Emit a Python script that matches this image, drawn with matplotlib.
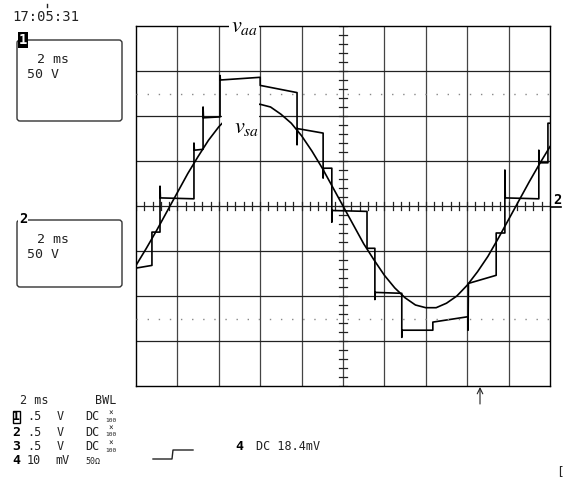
import numpy as np
import matplotlib
matplotlib.use("Agg")
import matplotlib.pyplot as plt
from matplotlib.patches import FancyBboxPatch, Rectangle

plt.rcParams['mathtext.fontset'] = 'stix'
MONO = 'DejaVu Sans Mono'
INK = '#222222'

# source voltage v_sa (ms, V)
t_sa = [0.0, 0.5, 1.0, 1.5, 2.0, 2.5, 3.0, 3.5, 4.0, 4.5, 5.0, 5.5, 6.0, 6.5,
        7.0, 7.5, 8.0, 8.5, 9.0, 9.5, 10.0, 10.5, 11.0, 11.5, 12.0, 12.5,
        13.0, 13.5, 14.0, 14.5, 15.0, 15.5, 16.0, 16.5, 17.0, 17.5, 18.0,
        18.5, 19.0, 19.5, 20.0]
v_sa = [-66, -47, -27, -6, 15, 36, 55, 73, 88, 100, 108, 113, 113, 110,
        102, 92, 78, 61, 42, 21, 0, -21, -42, -60, -77, -91, -102, -110,
        -113, -113, -108, -100, -88, -73, -56, -36, -15, 6, 27, 47, 66]

# inverter output v_aa (ms, V), steps with switching spikes
t_aa = [0.00, 0.77, 0.77, 1.16, 1.16, 1.18, 2.80, 2.80, 2.82, 3.24, 3.24,
        3.26, 4.06, 4.06, 4.08, 6.00, 6.00, 7.78, 7.78, 7.80, 9.04, 9.04,
        9.06, 9.46, 9.46, 9.48, 11.16, 11.16, 11.54, 11.54, 11.56, 12.84,
        12.84, 12.86, 14.34, 14.34, 16.04, 16.04, 16.06, 17.40, 17.40, 17.82,
        17.82, 17.84, 19.46, 19.46, 19.48, 19.90, 19.90, 20.00]
v_aa = [-69, -66, -29, -29, 22, 9, 8, 70, 62, 63, 110,
        98, 99, 145, 140, 143, 134, 126, 68, 86, 81, 31,
        42, 42, -18, -5, -6, -47, -47, -104, -96, -97,
        -146, -138, -138, -129, -123, -138, -86, -77, -30, -30,
        40, 9, 8, 62, 48, 48, 92, 92]

W, H = 563, 479
fig = plt.figure(figsize=(W / 100, H / 100), dpi=100)

# overlay in pixel units for the scope annotations
ov = fig.add_axes([0, 0, 1, 1], zorder=-1)
ov.set_xlim(0, W)
ov.set_ylim(H, 0)
ov.axis('off')

# graticule
x0, x1, y0, y1 = 136, 550, 26, 386
ax = fig.add_axes([x0 / W, 1 - y1 / H, (x1 - x0) / W, (y1 - y0) / H])
ax.set_xlim(0, 20)
ax.set_ylim(-200, 200)
ax.set_xticks([])
ax.set_yticks([])
for s in ax.spines.values():
    s.set_color('black')
    s.set_linewidth(1.0)
for x in range(2, 20, 2):
    ax.axvline(x, color='#444444', lw=0.9, zorder=1)
for y in range(-150, 200, 50):
    ax.axhline(y, color='#222222', lw=0.9, zorder=1)
for y in (125, -125):
    ax.axhline(y, color='#888888', lw=1.0, ls=(0, (1, 7)), zorder=5.5)
for x in np.arange(0, 20.01, 0.4):
    ax.plot([x, x], [-4.5, 4.5], color='#222222', lw=0.9, zorder=1)
for y in np.arange(-200, 200.1, 10):
    ax.plot([9.81, 10.19], [y, y], color='#222222', lw=0.9, zorder=1)

ax.plot(t_sa, v_sa, color='black', lw=1.2, zorder=4)
ax.plot(t_aa, v_aa, color='black', lw=1.2, zorder=4)

ax.text(5.22, 199, r'$v_{aa}$', fontsize=16, ha='center', va='center',
        zorder=6, clip_on=False,
        bbox=dict(facecolor='white', edgecolor='none', pad=1.0))
# label for v_sa sits on a blank patch that hides what lies behind it
ax.add_patch(Rectangle((4.14, 73), 1.78, 48, facecolor='white',
                       edgecolor='none', zorder=5))
ax.text(5.35, 87, r'$v_{sa}$', fontsize=16, ha='center', va='center',
        zorder=6)

# clock
ov.text(12, 17, '17:05:31', family=MONO, fontsize=10, color=INK,
        ha='left', va='center')
ov.plot([47, 47], [4, 7], color=INK, lw=1)

# channel boxes
for top, bot, ch in ((40, 121, '1'), (220, 287, '2')):
    ov.add_patch(FancyBboxPatch((17, top), 105, bot - top,
                                boxstyle='round,pad=0,rounding_size=3',
                                fill=False, ec='#333333', lw=1.0))
    ov.text(37, top + 19, '2 ms', family=MONO, fontsize=9.5, color=INK,
            ha='left', va='center')
    ov.text(27, top + 34, '50 V', family=MONO, fontsize=9.5, color=INK,
            ha='left', va='center')
ov.text(23, 40, '1', family=MONO, fontsize=10, fontweight='bold',
        color='white', ha='center', va='center',
        bbox=dict(facecolor='black', edgecolor='none', pad=0.6))
ov.text(23, 219, '2', family=MONO, fontsize=10, fontweight='bold',
        color='black', ha='center', va='center',
        bbox=dict(facecolor='white', edgecolor='none', pad=0.3))

# ground marker for channel 2
ov.plot([550, 561], [206.5, 206.5], color='black', lw=1.2)
ov.text(557, 200, '2', family=MONO, fontsize=10, fontweight='bold',
        ha='center', va='center')

# trigger arrow
ov.annotate('', xy=(480, 387), xytext=(480, 404),
            arrowprops=dict(arrowstyle='->', lw=0.8, color=INK,
                            shrinkA=0, shrinkB=0))

# settings readout
ov.text(20, 400, '2 ms', family=MONO, fontsize=8.5, color=INK, va='center')
ov.text(95, 400, 'BWL', family=MONO, fontsize=8.5, color=INK, va='center')
rows = [(417, '1'), (432, '2'), (447, '3')]
for y, ch in rows:
    ov.text(16, y, ch, family=MONO, fontsize=9.5, fontweight='bold',
            color='black', ha='center', va='center')
    ov.text(27, y, '.5', family=MONO, fontsize=8.5, color=INK, va='center')
    ov.text(57, y, 'V', family=MONO, fontsize=8.5, color=INK, va='center')
    ov.text(85, y, 'DC', family=MONO, fontsize=8.5, color=INK, va='center')
    ov.text(111, y - 4, '×', family=MONO, fontsize=5.5, color=INK,
            ha='center', va='center')
    ov.text(111, y + 3, '100', family=MONO, fontsize=4.5, color=INK,
            ha='center', va='center')
ov.add_patch(plt.Rectangle((12.5, 411), 7, 12, fill=False, ec='black', lw=1))
ov.text(16, 461, '4', family=MONO, fontsize=9.5, fontweight='bold',
        color='black', ha='center', va='center')
ov.text(27, 461, '10', family=MONO, fontsize=8.5, color=INK, va='center')
ov.text(55, 461, 'mV', family=MONO, fontsize=8.5, color=INK, va='center')
ov.text(85, 461, '50Ω', family=MONO, fontsize=6, color=INK, va='center')

# trigger level symbol and readout
ov.plot([153, 172, 173, 193], [459, 459, 450, 450], color=INK, lw=1)
ov.text(239, 447, '4', family=MONO, fontsize=9.5, fontweight='bold',
        color='black', ha='center', va='center')
ov.text(256, 447, 'DC 18.4mV', family=MONO, fontsize=8.5, color=INK,
        va='center')
ov.text(556, 472, '[', family=MONO, fontsize=9, color=INK, va='center')

fig.savefig('out.png', dpi=100)
